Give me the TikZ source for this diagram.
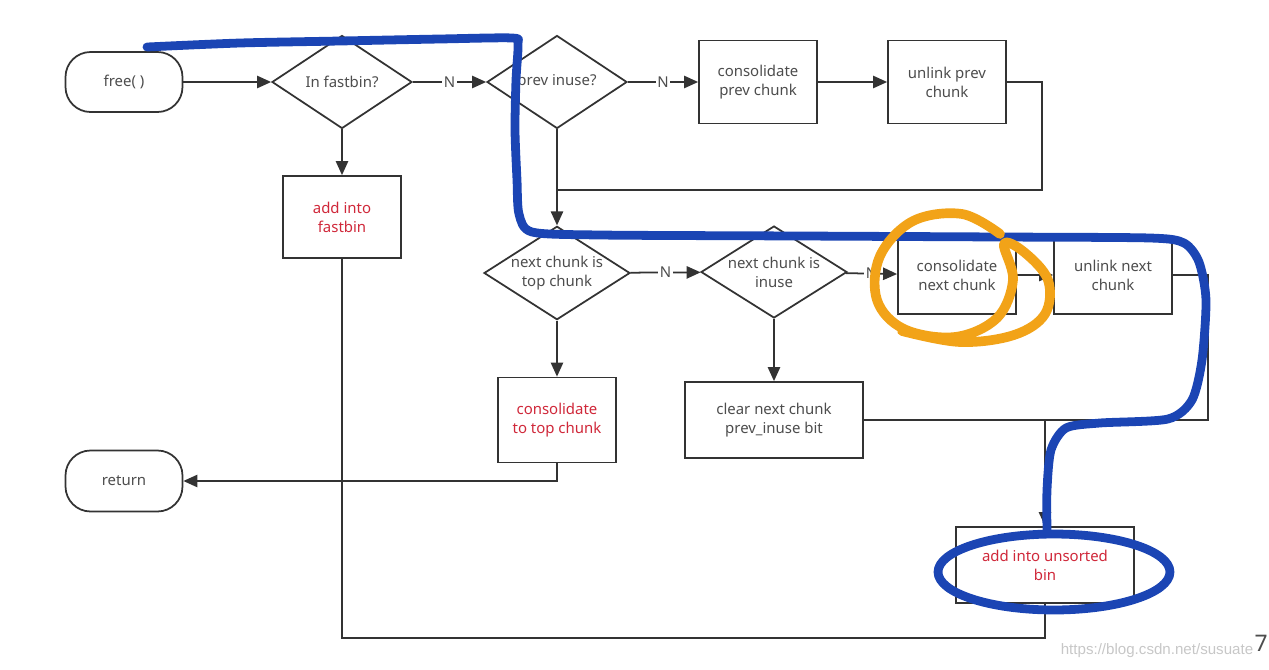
\documentclass[tikz,border=0pt]{standalone}
\usepackage{fontspec}
\setmainfont{Noto Sans}
\newfontfamily\wmfont{Liberation Sans}
\usetikzlibrary{shapes.geometric,arrows.meta}

\definecolor{inkgray}{HTML}{333333}
\definecolor{txtgray}{HTML}{4D4D4D}
\definecolor{txtred}{HTML}{D0283A}
\definecolor{penblue}{HTML}{1B45B4}
\definecolor{penorange}{HTML}{F2A318}

\tikzset{
  flow/.style={draw=inkgray, line width=1pt, -{Triangle[length=8pt,width=7pt]}},
  plain/.style={draw=inkgray, line width=1pt},
  box/.style={draw=inkgray, line width=1pt, fill=white, text=txtgray, align=center,
    font=\fontsize{8.5}{10.8}\selectfont, minimum width=2.36cm, minimum height=1.64cm, inner sep=2pt},
  widebox/.style={box, minimum width=3.56cm, minimum height=1.52cm},
  term/.style={box, rounded corners=0.5cm, minimum width=2.34cm, minimum height=1.2cm},
  test/.style={draw=inkgray, line width=1pt, fill=white, shape=diamond, shape aspect=1.55,
    inner sep=0pt, text=txtgray, align=center, font=\fontsize{8.5}{10.8}\selectfont,
    minimum width=2.8cm, minimum height=1.86cm},
  redtxt/.style={text=txtred},
  nlabel/.style={fill=white, inner sep=1pt, text=txtgray, font=\fontsize{8.5}{10}\selectfont},
  pen/.style={line width=5pt, line cap=round, line join=round},
}

\begin{document}
\begin{tikzpicture}[x=0.02cm, y=-0.02cm]
    \useasboundingbox (0,0) rectangle (1269,670);

    % top row
    \node[term] (free) at (124,82) {free( )};
    \node[test] (fastbin) at (342,82) {In fastbin?};
    \node[test] (previnuse) at (557,82) {prev inuse?};
    \node[box, minimum height=1.66cm] (consprev) at (758,82) {consolidate\\prev chunk};
    \node[box, minimum height=1.66cm] (unlinkprev) at (947,82) {unlink prev\\chunk};
    \node[box, redtxt] (addfast) at (342,217) {add into\\fastbin};

    % middle row
    \node[test, minimum width=2.92cm, minimum height=1.84cm] (toptest) at (557,273) {next chunk is\\top chunk};
    \node[test, minimum width=2.92cm, minimum height=1.84cm] (inusetest) at (774,272) {next chunk is\\inuse};
    \node[box, minimum height=1.56cm] (consnext) at (957,275) {consolidate\\next chunk};
    \node[box, minimum height=1.56cm] (unlinknext) at (1113,275) {unlink next\\chunk};

    % bottom row
    \node[box, redtxt, minimum height=1.7cm] (constop) at (557,420) {consolidate\\to top chunk};
    \node[widebox] (clearbit) at (774,420) {clear next chunk\\prev\_inuse bit};
    \node[term, minimum height=1.22cm] (return) at (124,481) {return};
    \node[widebox, redtxt] (addunsorted) at (1045,565) {add into unsorted\\bin};

    % turning points
    \coordinate (prevturn) at (1042,190);
    \coordinate (mergeprev) at (557,190);
    \coordinate (nextturn) at (1208,420);
    \coordinate (joinnext) at (1045,420);
    \coordinate (botline) at (700,638);

    % connectors
    \draw[flow] (free) -- (fastbin);
    \draw[flow] (fastbin) -- node[nlabel] {N} (previnuse);
    \draw[flow] (previnuse) -- node[nlabel] {N} (consprev);
    \draw[flow] (consprev) -- (unlinkprev);
    \draw[plain] (unlinkprev.east) -| (prevturn) -- (mergeprev);
    \draw[flow] (previnuse) -- (toptest);
    \draw[flow] (fastbin) -- (addfast);
    \draw[plain] (addfast.south) |- (botline) -| (addunsorted.south);
    \draw[flow] (toptest) -- node[nlabel] {N} (inusetest);
    \draw[flow] (inusetest) -- node[nlabel] {N} (consnext);
    \draw[flow] (consnext) -- (unlinknext);
    \draw[plain] (unlinknext.east) -| (nextturn) -- (joinnext);
    \draw[plain] (clearbit.east) -- (joinnext);
    \draw[flow] (joinnext) -- (addunsorted);
    \draw[flow] (toptest) -- (constop);
    \draw[flow] (inusetest) -- (clearbit);
    \draw[flow] (constop.south) |- (return.east);

    % hand drawn marks
    \draw[pen, penblue] plot[smooth, tension=0.45] coordinates {
        (147,47) (240,43) (340,41) (440,39) (512,38) (518,44) (516,80) (515,130)
        (517,180) (519,214) (532,232) (600,235) (800,236) (1000,237) (1150,238)
        (1184,243) (1199,262) (1206,300) (1202,360) (1192,400) (1168,419)
        (1100,423) (1066,428) (1051,450) (1047,490) (1047,532)};
    \draw[pen, penblue] (1054,572) ellipse [x radius=2.32cm, y radius=0.76cm];
    \draw[pen, penorange, line width=5.5pt] plot[smooth, tension=0.6] coordinates {
        (1000,234) (962,214) (913,221) (880,256) (877,300) (904,329) (955,337)
        (997,318) (1013,280) (1004,244) (1024,252) (1048,280) (1045,314)
        (1014,335) (960,342) (902,331)};

    % watermark
    \node[font=\wmfont\fontsize{8.6}{10}\selectfont, text=black!22] (mark) at (1157,651) {https://blog.csdn.net/susuate};
    \node[font=\fontsize{13}{15}\selectfont, text=txtgray, anchor=east, inner sep=0pt] (pagenum) at (1268,643) {7};
\end{tikzpicture}
\end{document}
